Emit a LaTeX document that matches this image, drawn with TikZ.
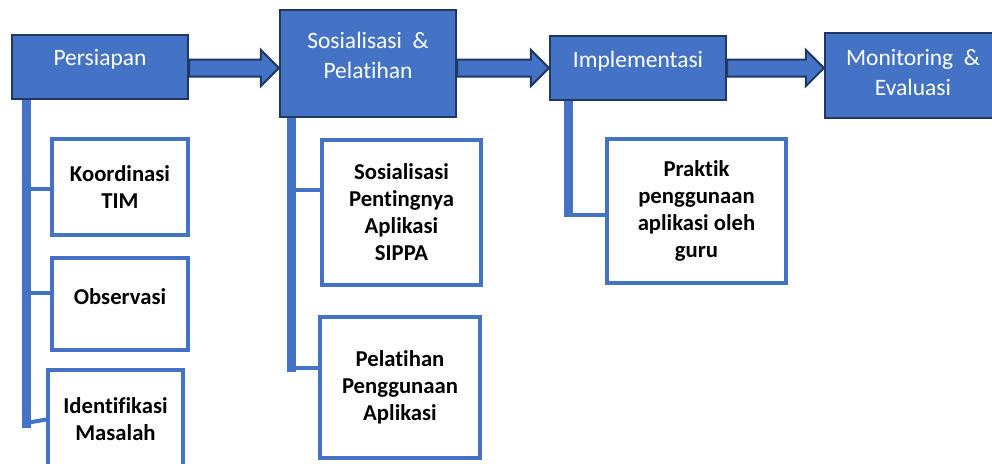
\documentclass[tikz,border=0pt]{standalone}
\usepackage{fontspec}
\setmainfont{Carlito}[Ligatures={NoCommon,NoContextual,NoRare}, Contextuals=NoAlternate]
\usetikzlibrary{calc}
\definecolor{boxblue}{HTML}{4472C4}
\definecolor{boxedge}{HTML}{1F3864}

\begin{document}
\begin{tikzpicture}[x=1pt, y=-1pt,
    mainbox/.style={draw=boxedge, line width=2.2pt, fill=boxblue, minimum width=176pt, inner sep=0pt},
    maintext/.style={text=white, align=center, inner sep=0pt, font=\fontsize{23.5}{30}\selectfont},
    subbox/.style={draw=boxblue, line width=4pt, fill=white, align=center, inner sep=0pt, font=\fontsize{22.7}{27}\selectfont\bfseries},
    flowarrow/.style={draw=boxedge, line width=2pt, fill=boxblue, line join=miter},
    trunk/.style={draw=boxblue, line width=9pt},
    branch/.style={draw=boxblue, line width=4pt}]

        \useasboundingbox (0,0) rectangle (992,463);
        \clip (0,0) rectangle (992,463);

        % main stages
        \node[mainbox, minimum height=64pt] (persiapan) at (100,67) {};
        \node[mainbox, minimum height=107pt] (sosialisasi) at (368,63.5) {};
        \node[mainbox, minimum height=64pt] (implementasi) at (638,68) {};
        \node[mainbox, minimum height=85pt] (monitoring) at (913,75.5) {};

        \node[maintext] (persiapan text) at ([yshift=8pt]persiapan.center) {Persiapan};
        \node[maintext] (sosialisasi text) at ([yshift=8pt]sosialisasi.center) {Sosialisasi\ \ \&\\Pelatihan};
        \node[maintext] (implementasi text) at ([yshift=7pt]implementasi.center) {Implementasi};
        \node[maintext] (monitoring text) at ([yshift=3pt]monitoring.center) {Monitoring\ \ \&\\Evaluasi};

        % arrows between stages
        \coordinate (axis) at (0,68);

        \draw[flowarrow] ($(persiapan.east |- axis)+(0,-8.5)$) -- ($(sosialisasi.west |- axis)+(-18,-8.5)$) -- ($(sosialisasi.west |- axis)+(-18,-18)$) -- (sosialisasi.west |- axis) -- ($(sosialisasi.west |- axis)+(-18,18)$) -- ($(sosialisasi.west |- axis)+(-18,8.5)$) -- ($(persiapan.east |- axis)+(0,8.5)$) -- cycle;

        \draw[flowarrow] ($(sosialisasi.east |- axis)+(0,-8.5)$) -- ($(implementasi.west |- axis)+(-18,-8.5)$) -- ($(implementasi.west |- axis)+(-18,-18)$) -- (implementasi.west |- axis) -- ($(implementasi.west |- axis)+(-18,18)$) -- ($(implementasi.west |- axis)+(-18,8.5)$) -- ($(sosialisasi.east |- axis)+(0,8.5)$) -- cycle;

        \draw[flowarrow] ($(implementasi.east |- axis)+(0,-8.5)$) -- ($(monitoring.west |- axis)+(-18,-8.5)$) -- ($(monitoring.west |- axis)+(-18,-18)$) -- (monitoring.west |- axis) -- ($(monitoring.west |- axis)+(-18,18)$) -- ($(monitoring.west |- axis)+(-18,8.5)$) -- ($(implementasi.east |- axis)+(0,8.5)$) -- cycle;

        % sub activities
        \node[subbox, minimum width=136pt, minimum height=96pt] (koordinasi) at (120,187) {Koordinasi\\TIM};
        \node[subbox, minimum width=136pt, minimum height=92pt] (observasi) at (120,304) {\raisebox{7pt}[\height][\depth]{Observasi}};
        \node[subbox, minimum width=135pt, minimum height=99pt] (identifikasi) at (115.5,419.5) {Identifikasi\\Masalah};

        \node[subbox, minimum width=159pt, minimum height=145pt] (sippa) at (401.5,212.5) {Sosialisasi\\Pentingnya\\Aplikasi\\SIPPA};
        \node[subbox, minimum width=160pt, minimum height=141pt] (pelatihan) at (400,387.5) {Pelatihan\\Penggunaan\\Aplikasi};

        \node[subbox, minimum width=179pt, minimum height=144pt] (praktik) at (696.5,211) {Praktik\\penggunaan\\aplikasi oleh\\guru};

        % trunks and branches
        \coordinate (trunk1) at (26.5,428);
        \coordinate (trunk2) at (291.5,372);
        \coordinate (trunk3) at (568,217);

        \draw[trunk] (persiapan.south -| trunk1) -- (trunk1);
        \draw[trunk] (sosialisasi.south -| trunk2) -- (trunk2);
        \draw[trunk] (implementasi.south -| trunk3) -- (trunk3);

        \coordinate (koordinasi joint) at ([yshift=-2pt]koordinasi.west);
        \coordinate (observasi joint) at ([yshift=11pt]observasi.west);
        \coordinate (identifikasi joint) at (trunk1 |- 0,423);
        \coordinate (sippa joint) at ([yshift=22.5pt]sippa.west);
        \coordinate (pelatihan joint) at ([yshift=19.5pt]pelatihan.west);
        \coordinate (praktik joint) at ([yshift=-4pt]praktik.west);

        \draw[branch] (koordinasi joint -| trunk1) -- (koordinasi joint);
        \draw[branch] (observasi joint -| trunk1) -- (observasi joint);
        \draw[branch] (identifikasi joint) -- (identifikasi.west);
        \draw[branch] (sippa joint -| trunk2) -- (sippa joint);
        \draw[branch] (pelatihan joint -| trunk2) -- (pelatihan joint);
        \draw[branch] (praktik joint -| trunk3) -- (praktik joint);

    \end{tikzpicture}
\end{document}
